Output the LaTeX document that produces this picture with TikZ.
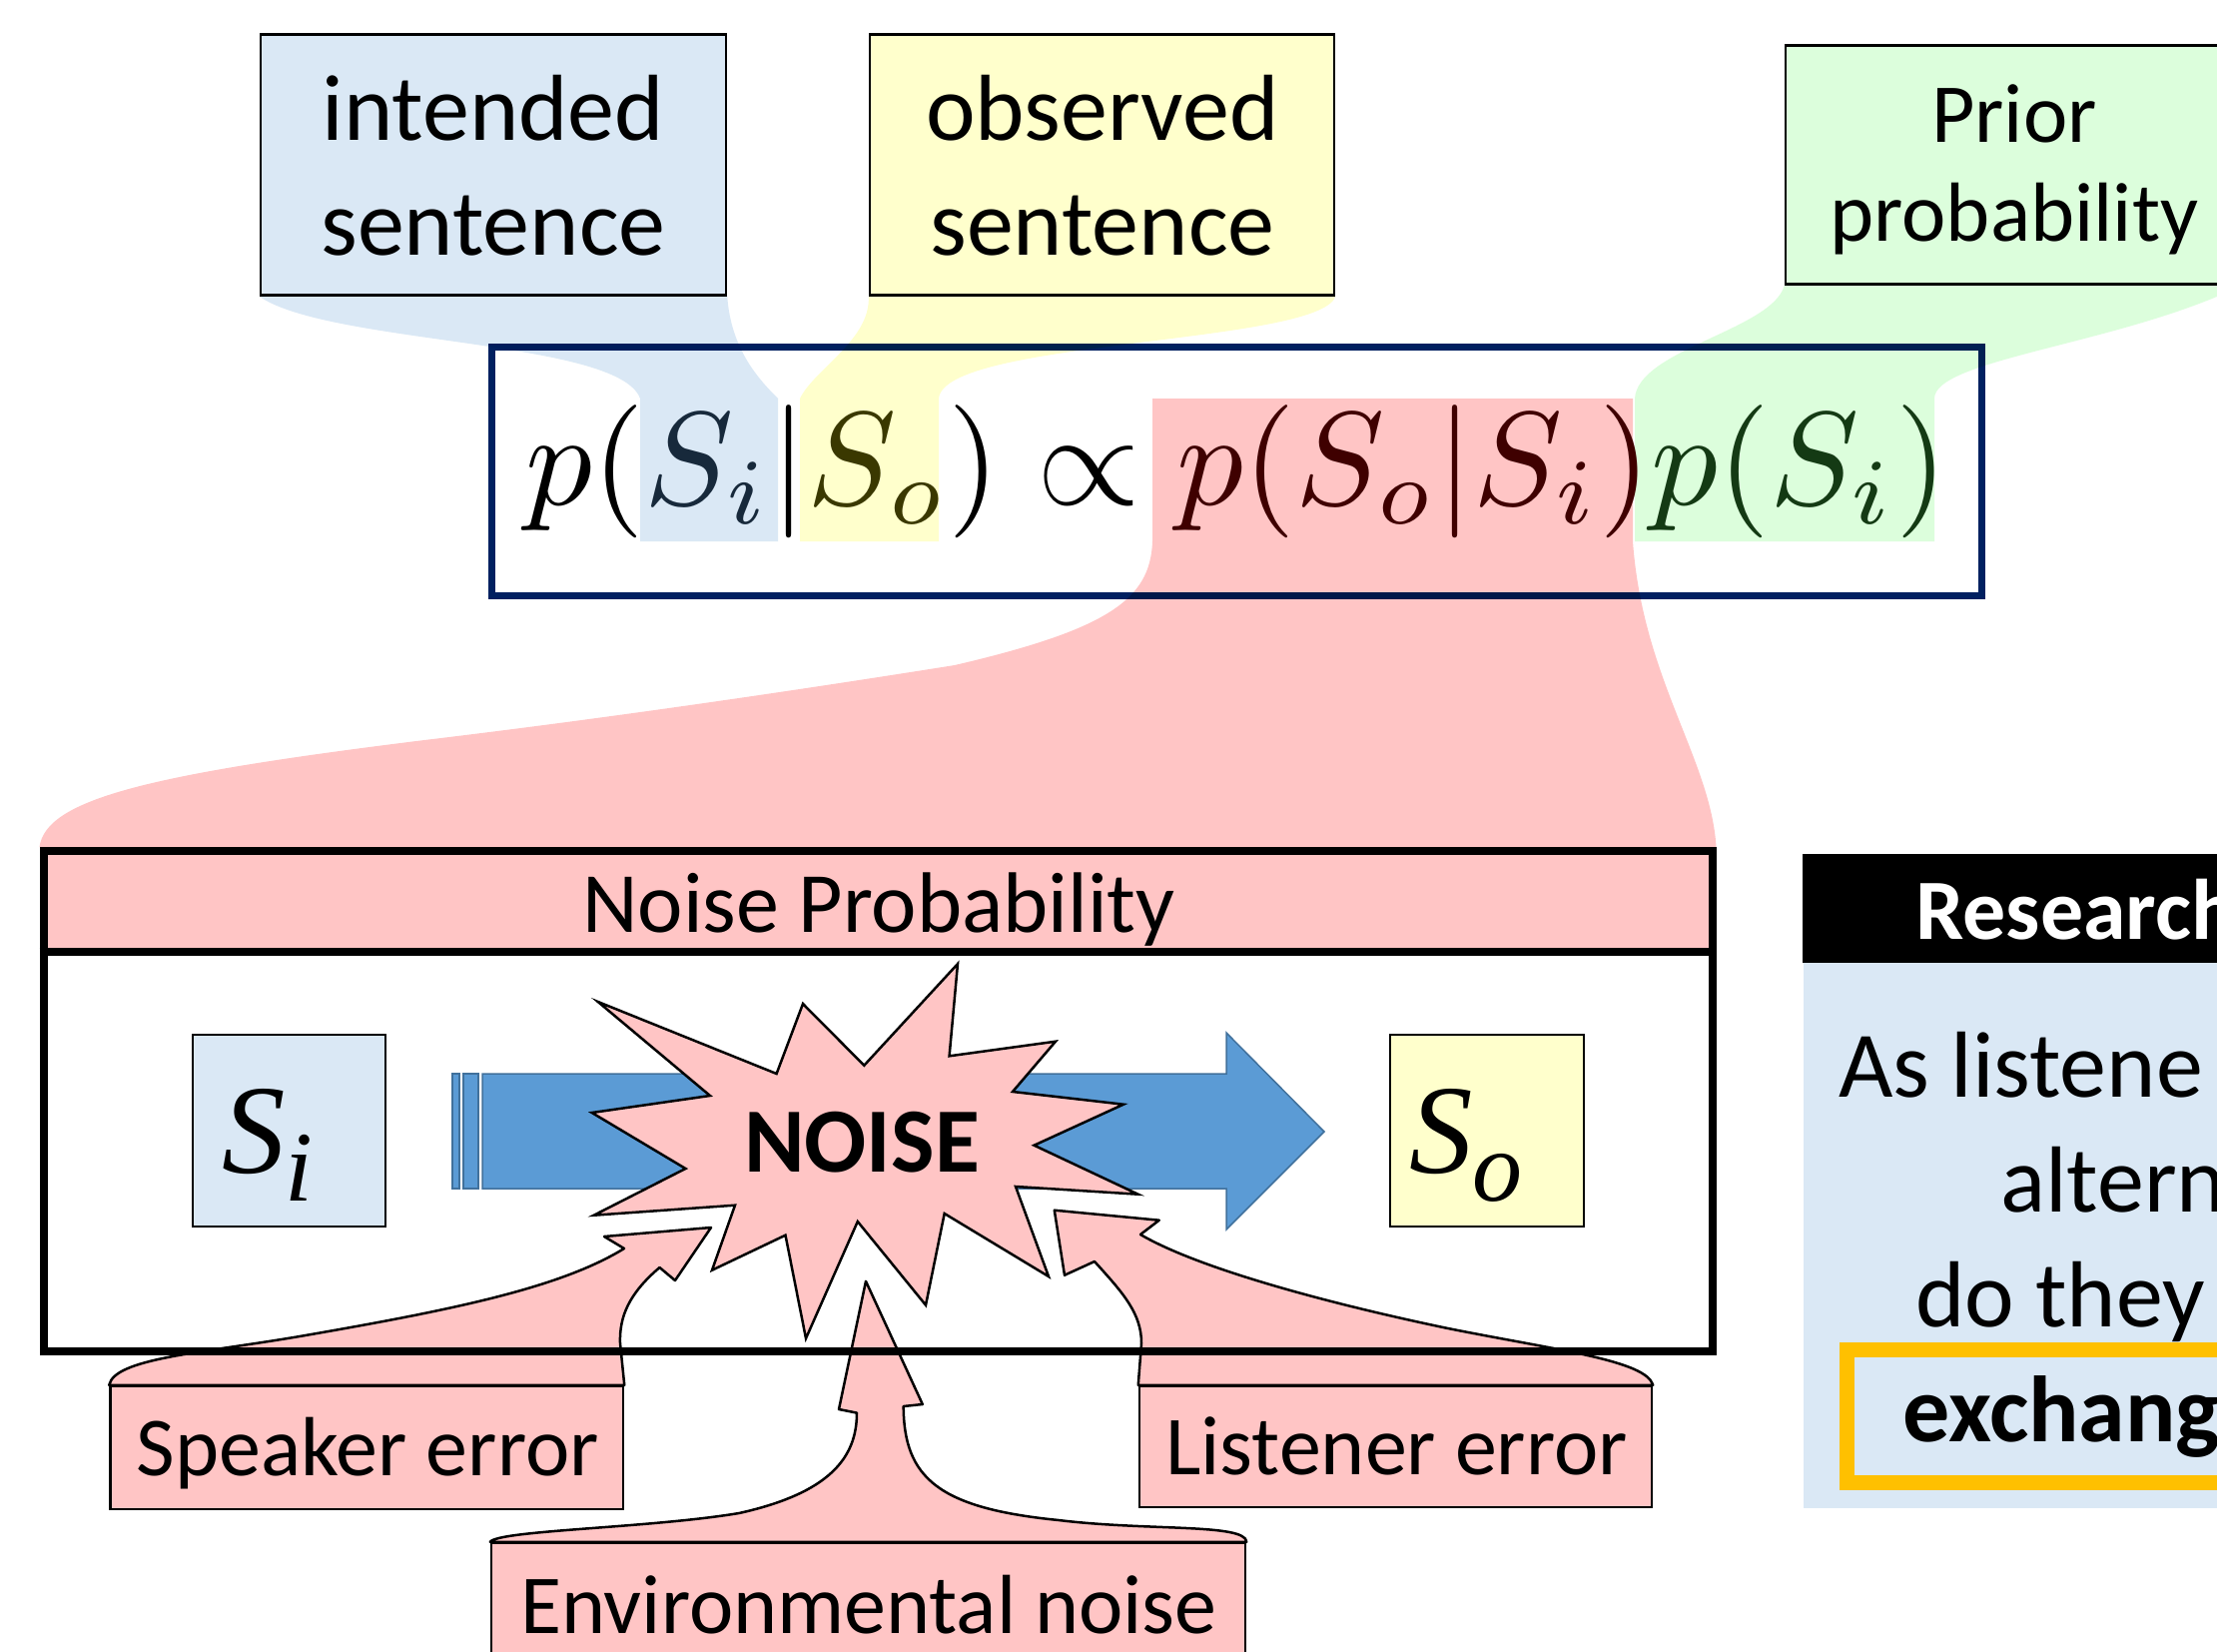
\documentclass[tikz,border=0pt]{standalone}
\usepackage[no-math]{fontspec}
\setmainfont{Carlito}
\newfontfamily\serifit{Liberation Serif}
\definecolor{lblue}{HTML}{DAE8F5}
\definecolor{lyellow}{HTML}{FFFFCC}
\definecolor{lgreen}{HTML}{DCFEDC}
\definecolor{lpink}{HTML}{FFC5C5}
\definecolor{navy}{HTML}{002060}
\definecolor{arrowblue}{HTML}{5B9BD5}
\definecolor{arrowedge}{HTML}{41719C}
\definecolor{orangec}{HTML}{FFC000}
\definecolor{sitext}{HTML}{17293B}
\definecolor{sotext}{HTML}{3A3800}
\definecolor{redtext}{HTML}{3F0000}
\definecolor{grtext}{HTML}{143A14}
\newcommand\fsA{\fontsize{94}{115}\selectfont}
\newcommand\fsP{\fontsize{84}{99}\selectfont}
\newcommand\fsN{\fontsize{86}{100}\selectfont}
\newcommand\fsC{\fontsize{84}{100}\selectfont}
\begin{document}
\begin{tikzpicture}[x=1pt,y=-1pt,
  box/.style={rectangle, draw=black, line width=2.5pt, inner sep=0pt},
  lbl/.style={inner sep=0pt, anchor=base},
  lblw/.style={inner sep=0pt, anchor=base west},
  callout/.style={fill=lpink, draw=black, line width=2.5pt, line join=round}]
\useasboundingbox (0,0) rectangle (2220,1654);
\fill[white] (0,0) rectangle (2220,1654);
\clip (0,0) rectangle (2220,1654);

% ---------- top label boxes ----------
\node[box, fill=lblue, minimum width=466pt, minimum height=261pt] (intended) at (494,165.1) {};
\node[lbl, font=\fsA] (intL1) at (494,140) {intended};
\node[lbl, font=\fsA] (intL2) at (494,255) {sentence};

\node[box, fill=lyellow, minimum width=465pt, minimum height=261pt] (observed) at (1103.5,165.1) {};
\node[lbl, font=\fsA] (obsL1) at (1104,140) {observed};
\node[lbl, font=\fsA] (obsL2) at (1104,255) {sentence};

\node[box, fill=lgreen, minimum width=459pt, minimum height=238.8pt] (prior) at (2017.5,165.1) {};
\node[lbl, font=\fsP] (priL1) at (2017,142) {Prior};
\node[lbl, font=\fsP] (priL2) at (2017,241) {probability};

% ---------- equation box ----------
\node[rectangle, draw=navy, line width=7pt, minimum width=1491.5pt, minimum height=249pt, inner sep=0pt] (eqbox) at (1238.25,471.5) {};

% ---------- noise probability box ----------
\node[rectangle, fill=lpink, minimum width=1671pt, minimum height=101pt, inner sep=0pt] (nphead) at (879,902.5) {};
\node[lbl, font=\fsN] (nptext) at (880,933) {Noise Probability};
\node[rectangle, draw=black, line width=8pt, minimum width=1671pt, minimum height=501pt, inner sep=0pt] (npbox) at (879,1102.5) {};
\draw[line width=8pt] (npbox.west |- nphead.south) -- (npbox.east |- nphead.south);

% ---------- highlight ribbons ----------
\begin{scope}[blend mode=multiply]
\fill[lblue] (intended.south west) .. controls (330,345) and (620,340) .. (641,399)
  -- (641,542) -- (779,542) -- (779,399) .. controls (760,380) and (732,350) .. (intended.south east) -- cycle;
\fill[lyellow] (observed.south west) .. controls (872,340) and (815,370) .. (801,399)
  -- (801,542) -- (940,542) -- (940,399) .. controls (945,340) and (1320,345) .. (observed.south east) -- cycle;
\fill[lgreen] (prior.south west) .. controls (1775,330) and (1640,350) .. (1637,399)
  -- (1637,542) -- (1937,542) -- (1937,399) .. controls (1937,360) and (2120,345) .. (2240,288) -- (2240,284.5) -- cycle;
\fill[lpink] (1154,399) -- (1635,399) -- (1635,542) .. controls (1645,680) and (1713,760) .. (npbox.north east)
  -- (npbox.north west) .. controls (46,800) and (150,775) .. (425,741)
  .. controls (600,720) and (780,694) .. (956,666) .. controls (1110,630) and (1152,600) .. (1154,542) -- cycle;
\end{scope}

% ---------- equation ----------
\node[lblw, scale=13.32, transform shape] (eq) at (524,505)
  {$p(\textcolor{sitext}{S_i}|\textcolor{sotext}{S_o})\propto\textcolor{redtext}{p(S_o|S_i)}\textcolor{grtext}{p(S_i)}$};

% ---------- blue striped arrow ----------
\fill[arrowblue, draw=arrowedge, line width=1.5pt] (453,1075) rectangle (460,1190);
\fill[arrowblue, draw=arrowedge, line width=1.5pt] (464,1075) rectangle (479,1190);
\fill[arrowblue, draw=arrowedge, line width=1.5pt] (483,1075) -- (1228,1075) -- (1228,1034) -- (1326,1133)
  -- (1228,1231) -- (1228,1190) -- (483,1190) -- cycle;

% ---------- S boxes ----------
\node[box, fill=lblue, minimum width=193pt, minimum height=192pt] (si) at (289.5,1132) {};
\node[lblw] (silbl) at (222,1174) {\serifit\itshape\fontsize{127}{130}\selectfont S\fontsize{100}{100}\selectfont\raisebox{-28pt}{i}};
\node[box, fill=lyellow, minimum width=194pt, minimum height=192pt] (so) at (1489,1132) {};
\node[lblw] (solbl) at (1411,1174) {\serifit\itshape\fontsize{127}{130}\selectfont S\fontsize{100}{100}\selectfont\raisebox{-28pt}{o}};

% ---------- NOISE starburst ----------
\filldraw[fill=lpink, draw=black, line width=2.5pt, line join=miter]
  (959,965) -- (950.6,1057.3) -- (1057,1042.7) -- (1014,1093) -- (1125,1105.7) -- (1035.5,1146.7)
  -- (1139.6,1195.7) -- (1017,1188) -- (1050,1278) -- (945.7,1215) -- (927,1306.7) -- (858.8,1223)
  -- (807,1340) -- (786.5,1236.7) -- (713,1271.7) -- (736,1206.7) -- (594.7,1216.7) -- (686.5,1170)
  -- (592.7,1114) -- (711,1097) -- (598.8,1003) -- (777.6,1075) -- (804,1005) -- (865.3,1066.7) -- cycle;
\node[lbl, font=\bfseries\fontsize{92}{100}\selectfont] (noise) at (863,1173) {NOISE};

% ---------- callout boxes ----------
\node[box, fill=lpink, minimum width=513.5pt, minimum height=123pt] (spk) at (367.25,1449.5) {};
\node[box, fill=lpink, minimum width=513pt, minimum height=121pt] (lis) at (1397.5,1448.5) {};
\node[box, fill=lpink, minimum width=755pt, minimum height=155pt] (env) at (869.5,1622.5) {};
\begin{scope}[blend mode=multiply]
\path[callout] (spk.north west) .. controls (115,1360) and (200,1355) .. (300,1338)
  .. controls (450,1312) and (560,1290) .. (625,1250) -- (605,1238) -- (712,1229) -- (676,1282) -- (660.5,1269)
  .. controls (630,1295) and (620,1318) .. (621,1345) -- (spk.north east) -- cycle;
\path[callout] (lis.north east) .. controls (1648,1362) and (1560,1352) .. (1450,1330)
  .. controls (1330,1305) and (1200,1270) .. (1142,1236) -- (1160.7,1221.7) -- (1055.8,1211.7) -- (1066,1276.7) -- (1096,1263)
  .. controls (1125,1295) and (1143,1315) .. (1143,1345) -- (lis.north west) -- cycle;
\path[callout] (env.north west) .. controls (500,1532) and (650,1530) .. (740,1515)
  .. controls (830,1495) and (858,1460) .. (858,1414.6) -- (840,1411) -- (867,1282.8) -- (923.8,1406) -- (904.7,1408)
  .. controls (905,1480) and (940,1510) .. (1060,1522) .. controls (1150,1533) and (1247,1525) .. (env.north east) -- cycle;
\end{scope}
\node[lbl, font=\fsC] (spkt) at (368,1477) {Speaker error};
\node[lbl, font=\fsC] (list) at (1398.5,1476) {Listener error};
\node[lbl, font=\fsC] (envt) at (870,1635) {Environmental noise};

% ---------- research box ----------
\node[rectangle, fill=black, minimum width=495pt, minimum height=109pt, inner sep=0pt] (rqhead) at (2052.5,909.5) {};
\node[rectangle, fill=lblue, minimum width=494pt, minimum height=546pt, inner sep=0pt] (rqbody) at (2053,1237) {};
\node[rectangle, draw=orangec, line width=15pt, minimum width=450.5pt, minimum height=133pt, inner sep=0pt] (rqhl) at (2074.75,1417.5) {};
\node[lblw, font=\bfseries\fontsize{86}{100}\selectfont, text=white] (rqt) at (1918,940.6) {Research};
\node[lblw, font=\fsA] (rq1) at (1841,1098) {As listene};
\node[lblw, font=\fsA] (rq2) at (2003,1213) {altern};
\node[lblw, font=\fsA] (rq3) at (1918,1328) {do they};
\node[lblw, font=\bfseries\fsA] (rq4) at (1905,1443) {exchang};
\end{tikzpicture}
\end{document}
